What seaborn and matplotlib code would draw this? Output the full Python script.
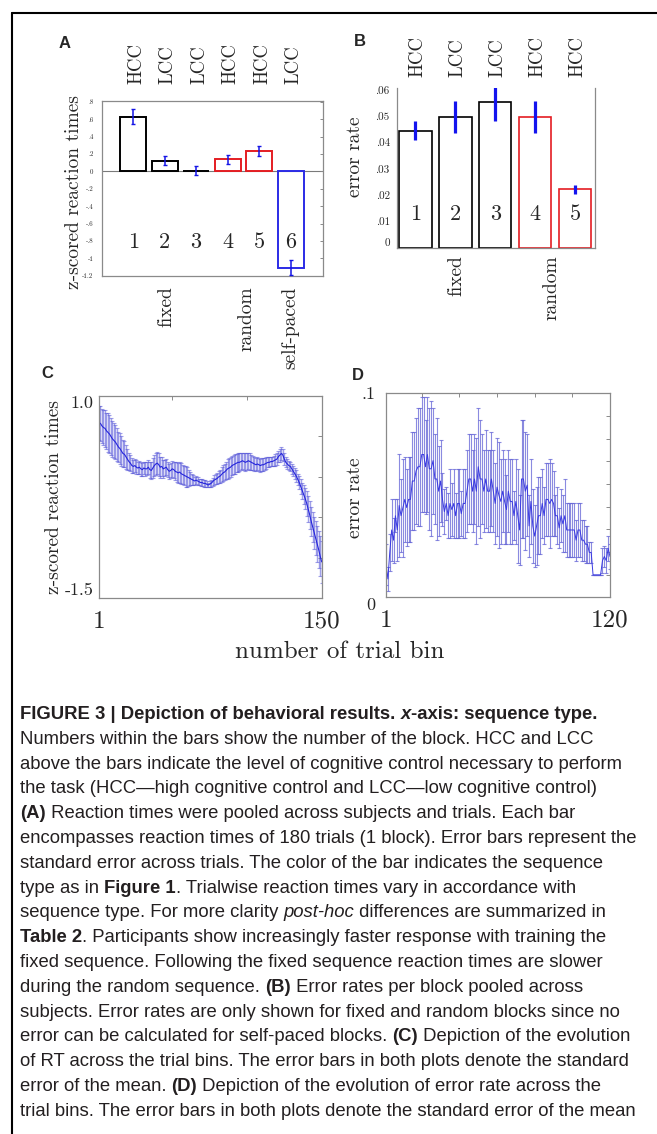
import numpy as np
import pandas as pd
import matplotlib
matplotlib.use("Agg")
from matplotlib import pyplot as plt
from matplotlib.lines import Line2D
from matplotlib.font_manager import FontProperties
import seaborn as sns

# panel A: z-scored reaction time per block
a_blocks = ["1", "2", "3", "4", "5", "6"]
a_rt = [0.63, 0.125, 0.01, 0.14, 0.23, -1.11]
a_rt_err = [0.086, 0.055, 0.055, 0.052, 0.058, 0.085]
a_control = ["HCC", "LCC", "LCC", "HCC", "HCC", "LCC"]
a_seq = ["fixed", "fixed", "fixed", "random", "random", "self-paced"]
a_yticks = [-1.2, -1.0, -0.8, -0.6, -0.4, -0.2, 0.0, 0.2, 0.4, 0.6, 0.8]
a_yticklabels = ["-1.2", "-1", "-.8", "-.6", "-.4", "-.2", "0", ".2", ".4", ".6", ".8"]

# panel B: error rate per block
b_blocks = ["1", "2", "3", "4", "5"]
b_rate = [0.0445, 0.0498, 0.0555, 0.0498, 0.0222]
b_rate_err = [0.0036, 0.0060, 0.0072, 0.0060, 0.0017]
b_control = ["HCC", "LCC", "LCC", "HCC", "HCC"]
b_seq = ["fixed", "fixed", "fixed", "random", "random"]
b_yticks = [0, 0.01, 0.02, 0.03, 0.04, 0.05, 0.06]
b_yticklabels = ["0", ".01", ".02", ".03", ".04", ".05", ".06"]

# panel C: RT over 150 trial bins
c_bins = np.arange(1, 151)
c_rt = [0.67, 0.66, 0.63, 0.61, 0.60, 0.57, 0.55, 0.53, 0.50, 0.47,
        0.45, 0.43, 0.40, 0.37, 0.35, 0.32, 0.29, 0.28, 0.25, 0.22,
        0.19, 0.17, 0.14, 0.13, 0.14, 0.12, 0.11, 0.12, 0.10, 0.09,
        0.11, 0.10, 0.10, 0.12, 0.09, 0.08, 0.11, 0.14, 0.16, 0.17,
        0.15, 0.12, 0.13, 0.10, 0.11, 0.12, 0.09, 0.07, 0.08, 0.10,
        0.09, 0.07, 0.06, 0.05, 0.06, 0.04, 0.03, 0.02, 0.01, 0.00,
        -0.01, -0.02, -0.03, -0.04, -0.05, -0.04, -0.05, -0.06, -0.07, -0.07,
        -0.08, -0.08, -0.09, -0.10, -0.09, -0.08, -0.06, -0.04, -0.03, -0.02,
        0.00, 0.01, 0.03, 0.05, 0.06, 0.08, 0.10, 0.11, 0.12, 0.14,
        0.15, 0.16, 0.17, 0.18, 0.18, 0.19, 0.20, 0.19, 0.18, 0.19,
        0.20, 0.19, 0.18, 0.17, 0.16, 0.15, 0.16, 0.15, 0.14, 0.15,
        0.15, 0.16, 0.17, 0.18, 0.18, 0.19, 0.19, 0.20, 0.21, 0.22,
        0.25, 0.27, 0.29, 0.27, 0.22, 0.18, 0.16, 0.14, 0.13, 0.10,
        0.07, 0.04, 0.01, -0.03, -0.07, -0.12, -0.17, -0.22, -0.27, -0.33,
        -0.40, -0.47, -0.55, -0.62, -0.69, -0.76, -0.83, -0.90, -0.98, -1.05]
c_sem = [0.21, 0.22, 0.21, 0.22, 0.23, 0.22, 0.24, 0.24, 0.23, 0.22,
         0.22, 0.21, 0.20, 0.19, 0.19, 0.18, 0.17, 0.16, 0.15, 0.13,
         0.11, 0.10, 0.09, 0.08, 0.08, 0.09, 0.08, 0.08, 0.09, 0.08,
         0.08, 0.09, 0.08, 0.09, 0.10, 0.11, 0.12, 0.13, 0.14, 0.14,
         0.14, 0.13, 0.12, 0.11, 0.10, 0.10, 0.09, 0.09, 0.09, 0.10,
         0.10, 0.11, 0.12, 0.12, 0.13, 0.13, 0.12, 0.12, 0.13, 0.12,
         0.10, 0.08, 0.07, 0.06, 0.05, 0.05, 0.05, 0.04, 0.04, 0.04,
         0.04, 0.04, 0.04, 0.03, 0.04, 0.04, 0.05, 0.06, 0.06, 0.07,
         0.07, 0.08, 0.09, 0.10, 0.10, 0.11, 0.12, 0.12, 0.12, 0.12,
         0.12, 0.12, 0.11, 0.12, 0.11, 0.11, 0.10, 0.11, 0.11, 0.10,
         0.10, 0.10, 0.09, 0.09, 0.09, 0.08, 0.08, 0.08, 0.08, 0.08,
         0.08, 0.07, 0.07, 0.06, 0.06, 0.06, 0.06, 0.06, 0.07, 0.07,
         0.07, 0.08, 0.08, 0.07, 0.07, 0.06, 0.06, 0.06, 0.06, 0.06,
         0.06, 0.07, 0.07, 0.07, 0.08, 0.09, 0.10, 0.12, 0.13, 0.15,
         0.16, 0.17, 0.18, 0.19, 0.20, 0.21, 0.22, 0.23, 0.25, 0.26]

# panel D: error rate over 120 trial bins
d_bins = np.arange(1, 121)
d_rate = [0.016, 0.009, 0.022, 0.033, 0.028, 0.040, 0.033, 0.045, 0.040, 0.044,
          0.048, 0.044, 0.048, 0.048, 0.057, 0.057, 0.062, 0.064, 0.064, 0.070,
          0.070, 0.064, 0.070, 0.063, 0.063, 0.067, 0.058, 0.058, 0.052, 0.057,
          0.048, 0.042, 0.046, 0.040, 0.046, 0.043, 0.046, 0.040, 0.046, 0.046,
          0.041, 0.046, 0.046, 0.052, 0.058, 0.058, 0.052, 0.058, 0.052, 0.064,
          0.058, 0.058, 0.052, 0.058, 0.052, 0.052, 0.058, 0.052, 0.046, 0.054,
          0.050, 0.047, 0.052, 0.047, 0.043, 0.052, 0.047, 0.047, 0.040, 0.047,
          0.040, 0.033, 0.058, 0.058, 0.052, 0.055, 0.035, 0.047, 0.035, 0.030,
          0.035, 0.040, 0.040, 0.046, 0.040, 0.048, 0.048, 0.046, 0.048, 0.046,
          0.040, 0.040, 0.034, 0.040, 0.036, 0.040, 0.033, 0.033, 0.033, 0.033,
          0.033, 0.028, 0.033, 0.033, 0.028, 0.028, 0.026, 0.026, 0.022, 0.022,
          0.011, 0.011, 0.011, 0.011, 0.011, 0.018, 0.020, 0.018, 0.024, 0.020]
d_sem = [0.010, 0.006, 0.009, 0.015, 0.011, 0.008, 0.015, 0.025, 0.018, 0.024,
         0.021, 0.019, 0.021, 0.021, 0.024, 0.024, 0.026, 0.029, 0.029, 0.028,
         0.028, 0.023, 0.028, 0.030, 0.033, 0.026, 0.022, 0.030, 0.022, 0.020,
         0.013, 0.011, 0.008, 0.011, 0.017, 0.013, 0.017, 0.011, 0.017, 0.017,
         0.011, 0.017, 0.017, 0.020, 0.022, 0.022, 0.020, 0.022, 0.026, 0.029,
         0.029, 0.022, 0.020, 0.024, 0.020, 0.020, 0.023, 0.020, 0.020, 0.024,
         0.026, 0.021, 0.020, 0.021, 0.017, 0.020, 0.021, 0.021, 0.012, 0.021,
         0.023, 0.017, 0.029, 0.029, 0.029, 0.025, 0.015, 0.021, 0.018, 0.015,
         0.019, 0.019, 0.019, 0.017, 0.014, 0.018, 0.018, 0.022, 0.018, 0.016,
         0.010, 0.014, 0.010, 0.013, 0.014, 0.018, 0.013, 0.013, 0.013, 0.013,
         0.013, 0.010, 0.013, 0.013, 0.010, 0.010, 0.009, 0.009, 0.005, 0.005,
         0.000, 0.000, 0.000, 0.000, 0.000, 0.006, 0.005, 0.006, 0.006, 0.006]

caption = [
    [("FIGURE 3 | Depiction of behavioral results. ", "b"), ("x", "bi"), ("-axis: sequence type.", "b")],
    [("Numbers within the bars show the number of the block. HCC and LCC", "n")],
    [("above the bars indicate the level of cognitive control necessary to perform", "n")],
    [("the task (HCC\u2014high cognitive control and LCC\u2014low cognitive control)", "n")],
    [("(A)", "b"), (" Reaction times were pooled across subjects and trials. Each bar", "n")],
    [("encompasses reaction times of 180 trials (1 block). Error bars represent the", "n")],
    [("standard error across trials. The color of the bar indicates the sequence", "n")],
    [("type as in ", "n"), ("Figure 1", "b"), (". Trialwise reaction times vary in accordance with", "n")],
    [("sequence type. For more clarity ", "n"), ("post-hoc", "i"), (" differences are summarized in", "n")],
    [("Table 2", "b"), (". Participants show increasingly faster response with training the", "n")],
    [("fixed sequence. Following the fixed sequence reaction times are slower", "n")],
    [("during the random sequence. ", "n"), ("(B)", "b"), (" Error rates per block pooled across", "n")],
    [("subjects. Error rates are only shown for fixed and random blocks since no", "n")],
    [("error can be calculated for self-paced blocks. ", "n"), ("(C)", "b"), (" Depiction of the evolution", "n")],
    [("of RT across the trial bins. The error bars in both plots denote the standard", "n")],
    [("error of the mean. ", "n"), ("(D)", "b"), (" Depiction of the evolution of error rate across the", "n")],
    [("trial bins. The error bars in both plots denote the standard error of the mean", "n")],
]

seq_palette = {"fixed": "black", "random": "#e41d22", "self-paced": "#2b2be6"}

sns.set_style("white")
plt.rcParams["font.family"] = ["cmr10", "DejaVu Serif"]
plt.rcParams["axes.unicode_minus"] = False

W, H = 657, 1134
fig = plt.figure(figsize=(W / 100, H / 100), dpi=100)


def px_axes(l, t, r, b):
    return fig.add_axes([l / W, 1 - b / H, (r - l) / W, (b - t) / H])


def ftext(x, y, s, **kw):
    return fig.text(x / W, 1 - y / H, s, **kw)


def grey_frame(ax, hide=()):
    for name, sp in ax.spines.items():
        sp.set_color("#8a8a8a")
        sp.set_linewidth(0.9)
        if name in hide:
            sp.set_visible(False)


# ---------------- A ----------------
axA = px_axes(101.7, 101, 322.7, 275.7)
dfA = pd.DataFrame({"block": a_blocks, "rt": a_rt, "seq": a_seq})
sns.barplot(data=dfA, x="block", y="rt", hue="seq", palette=seq_palette, fill=False,
            width=0.83, linewidth=1.4, errorbar=None, legend=False, ax=axA)
axA.errorbar(np.arange(len(a_rt)), a_rt, yerr=a_rt_err, fmt="none", ecolor="#1414e6",
             elinewidth=1.1, capsize=1.5, capthick=1.0, zorder=4)
axA.axhline(0, color="#7a7a7a", lw=0.8, zorder=0)
axA.set_xlim(-1.0, 6.02)
axA.set_ylim(-1.2, 0.81)
axA.set_yticks(a_yticks, a_yticklabels)
axA.set_xticks(np.arange(len(a_rt)), [""] * len(a_rt))
axA.tick_params(axis="both", direction="in", length=2.5, width=0.7, color="#8a8a8a",
                right=True, labelsize=5, pad=6)
axA.set_xlabel("")
axA.set_ylabel("")
grey_frame(axA)
for i, lab in enumerate(a_control):
    axA.text(i + 0.1, 1.10, lab, transform=axA.get_xaxis_transform(), rotation=90,
             ha="center", va="bottom", fontsize=13.5)
    axA.text(i, -0.88, a_blocks[i], ha="center", va="baseline", fontsize=16)
for pos, lab in zip([1.05, 3.6, 5.0], ["fixed", "random", "self-paced"]):
    axA.text(pos, -0.063, lab, transform=axA.get_xaxis_transform(), rotation=90,
             ha="center", va="top", fontsize=14)
ftext(74, 192, "z-scored reaction times", rotation=90, ha="center", va="center", fontsize=14)

# ---------------- B ----------------
axB = px_axes(396.7, 88, 595, 247.7)
dfB = pd.DataFrame({"block": b_blocks, "rate": b_rate, "seq": b_seq})
sns.barplot(data=dfB, x="block", y="rate", hue="seq", palette=seq_palette, fill=False,
            width=0.81, linewidth=1.2, errorbar=None, legend=False, ax=axB)
axB.errorbar(np.arange(len(b_rate)), b_rate, yerr=b_rate_err, fmt="none", ecolor="#1414ee",
             elinewidth=2.3, capsize=0, zorder=4)
axB.set_xlim(-0.47, 4.5)
axB.set_ylim(0, 0.0608)
axB.set_yticks(b_yticks, b_yticklabels)
axB.set_xticks([])
axB.tick_params(axis="y", direction="in", length=2.5, width=0.7, color="#8a8a8a",
                labelsize=8, pad=5)
for lab in axB.get_yticklabels():
    if lab.get_text() == "0":
        lab.set_va("bottom")
axB.set_xlabel("")
axB.set_ylabel("")
grey_frame(axB, hide=("top",))
for i, lab in enumerate(b_control):
    axB.text(i + 0.05, 1.071, lab, transform=axB.get_xaxis_transform(), rotation=90,
             ha="center", va="bottom", fontsize=13.5)
    axB.text(i, 0.0105, b_blocks[i], ha="center", va="baseline", fontsize=16)
for pos, lab in zip([1.03, 3.4], ["fixed", "random"]):
    axB.text(pos, -0.046, lab, transform=axB.get_xaxis_transform(), rotation=90,
             ha="center", va="top", fontsize=14)
ftext(355, 157, "error rate", rotation=90, ha="center", va="center", fontsize=14)

# ---------------- C ----------------
axC = px_axes(99, 396, 321.7, 598.3)
axC.errorbar(c_bins, c_rt, yerr=c_sem, fmt="none", ecolor="#5454d8", alpha=0.55,
             elinewidth=1.0, capsize=1.1, capthick=0.8)
sns.lineplot(x=c_bins, y=c_rt, ax=axC, color="#2424dc", lw=0.8)
axC.set_xlim(1, 150)
axC.set_ylim(-1.5, 1.0)
axC.set_xticks([1, 50, 100, 150], ["1", "", "", "150"])
axC.set_yticks([-1.5, -1.0, -0.5, 0.0, 0.5, 1.0], ["-1.5", "", "", "", "", "1.0"])
axC.tick_params(axis="both", direction="in", length=3, width=0.7, color="#8a8a8a",
                top=True, right=True)
axC.tick_params(axis="x", labelsize=18, pad=9)
axC.tick_params(axis="y", labelsize=13, pad=4)
for lab in axC.get_yticklabels():
    if lab.get_text() == "1.0":
        lab.set_va("top")
    elif lab.get_text() == "-1.5":
        lab.set_va("bottom")
axC.set_xlabel("")
axC.set_ylabel("")
grey_frame(axC)
ftext(54, 497, "z-scored reaction times", rotation=90, ha="center", va="center", fontsize=14)

# ---------------- D ----------------
axD = px_axes(386, 393.3, 610, 597.3)
axD.errorbar(d_bins, d_rate, yerr=d_sem, fmt="none", ecolor="#6464d6", alpha=0.75,
             elinewidth=0.8, capsize=1.6, capthick=0.8)
sns.lineplot(x=d_bins, y=d_rate, ax=axD, color="#3a3ae2", lw=0.7)
axD.set_xlim(1, 120)
axD.set_ylim(0, 0.1)
axD.set_xticks([1, 20, 40, 60, 80, 100, 120], ["1", "", "", "", "", "", "120"])
axD.set_yticks(np.linspace(0, 0.1, 10), ["0"] + [""] * 8 + [".1"])
axD.tick_params(axis="both", direction="in", length=3, width=0.7, color="#8a8a8a",
                top=True, right=True)
axD.tick_params(axis="x", labelsize=18, pad=9)
axD.tick_params(axis="y", labelsize=13, pad=8)
for lab in axD.get_yticklabels():
    if lab.get_text() == "0":
        lab.set_va("top")
axD.set_xlabel("")
axD.set_ylabel("")
grey_frame(axD)
ftext(355, 498, "error rate", rotation=90, ha="center", va="center", fontsize=14)

ftext(340, 652, "number of trial bin", ha="center", va="center", fontsize=18)

# panel letters
for lab, x, y in [("A", 65, 43), ("B", 360, 42), ("C", 47, 373), ("D", 358, 375)]:
    ftext(x, y, lab, ha="center", va="center", fontsize=12, fontweight="bold",
          family=["Liberation Sans", "DejaVu Sans"])

# page frame
fig.add_artist(Line2D([12 / W, 12 / W], [1 - 13 / H, 0], color="black", lw=1.5))
fig.add_artist(Line2D([12 / W, 1], [1 - 13 / H, 1 - 13 / H], color="black", lw=1.5))

# caption, line by line with bold / italic runs
cap_family = ["Liberation Sans Narrow", "Liberation Sans", "DejaVu Sans"]
styles = {"n": ("normal", "normal"), "b": ("bold", "normal"),
          "i": ("normal", "italic"), "bi": ("bold", "italic")}
renderer = fig.canvas.get_renderer()


def seg_width(s, size, st):
    weight, style = styles[st]
    fp = FontProperties(family=cap_family, size=size, weight=weight, style=style)
    w1 = renderer.get_text_width_height_descent("I" + s + "I", fp, ismath=False)[0]
    w0 = renderer.get_text_width_height_descent("II", fp, ismath=False)[0]
    return w1 - w0


widest = max(sum(seg_width(t, 10, st) for t, st in line) for line in caption)
cap_size = 10 * 621 / widest
for i, line in enumerate(caption):
    x = 20.0
    y = 719 + i * 24.8
    for t, st in line:
        weight, style = styles[st]
        ftext(x, y, t, ha="left", va="baseline", fontsize=cap_size, fontweight=weight,
              fontstyle=style, family=cap_family, color="#231f20")
        x += seg_width(t, cap_size, st)

fig.savefig("out.png", dpi=100)
